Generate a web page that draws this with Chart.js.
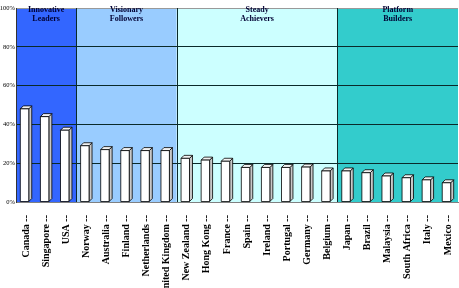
<!DOCTYPE html>
<html>
<head>
<meta charset="utf-8">
<script src="https://cdn.jsdelivr.net/npm/chart.js@4.4.1/dist/chart.umd.min.js"></script>
<style>
  html, body { margin: 0; padding: 0; background: #ffffff; }
  #wrap { width: 459px; height: 288px; position: relative; }
</style>
</head>
<body>
<div id="wrap"><canvas id="c"></canvas></div>
<script>
// ---- Data ----
const categories = ['Canada --', 'Singapore --', 'USA --', 'Norway --', 'Australia --', 'Finland --',
  'Netherlands --', 'United Kingdom --', 'New Zealand --', 'Hong Kong --', 'France --', 'Spain --',
  'Ireland --', 'Portugal --', 'Germany --', 'Belgium --', 'Japan --', 'Brazil --', 'Malaysia --',
  'South Africa --', 'Italy --', 'Mexico --'];
const values = [48, 44, 37, 29, 27, 26.5, 26.5, 26.5, 22.5, 21.6, 21, 17.8, 17.8, 17.8, 18, 16, 16, 15.1, 13.4, 12.5, 11.4, 9.9];
const groupNames = [['Innovative', 'Leaders'], ['Visionary', 'Followers'], ['Steady', 'Achievers'], ['Platform', 'Builders']];
const groupSizes = [3, 5, 8, 6];
const groupColors = ['#3366FF', '#99CCFF', '#CCFFFF', '#33CCCC'];
const yTicks = [0, 20, 40, 60, 80, 100];

const serif = '"Liberation Serif", "Times New Roman", serif';

const bandsPlugin = {
  id: 'bands',
  beforeDraw(chart) {
    const { ctx, chartArea, scales } = chart;
    const x = scales.x;
    const half = (x.getPixelForValue(1) - x.getPixelForValue(0)) / 2;
    let start = 0;
    ctx.save();
    groupSizes.forEach((n, g) => {
      const l = x.getPixelForValue(start) - half;
      const r = x.getPixelForValue(start + n - 1) + half;
      ctx.fillStyle = groupColors[g];
      ctx.fillRect(l, chartArea.top, r - l, chartArea.bottom - chartArea.top);
      start += n;
    });
    ctx.restore();
  },
  afterDraw(chart) {
    const { ctx, chartArea, scales } = chart;
    const x = scales.x;
    const half = (x.getPixelForValue(1) - x.getPixelForValue(0)) / 2;
    let start = 0;
    ctx.save();
    ctx.strokeStyle = '#0a2a2a';
    ctx.lineWidth = 1;
    groupSizes.forEach((n, g) => {
      if (g > 0) {
        const bx = Math.round(x.getPixelForValue(start) - half) + 0.5;
        ctx.beginPath();
        ctx.moveTo(bx, chartArea.top);
        ctx.lineTo(bx, chartArea.bottom);
        ctx.stroke();
      }
      const l = x.getPixelForValue(start) - half;
      const r = x.getPixelForValue(start + n - 1) + half;
      ctx.fillStyle = '#000033';
      ctx.font = 'bold 8px ' + serif;
      ctx.textAlign = 'center';
      ctx.textBaseline = 'middle';
      ctx.fillText(groupNames[g][0], (l + r) / 2, chartArea.top + 2);
      ctx.fillText(groupNames[g][1], (l + r) / 2, chartArea.top + 11);
      start += n;
    });
    ctx.restore();
  }
};

const bars3d = {
  id: 'bars3d',
  afterDatasetsDraw(chart) {
    const { ctx } = chart;
    const meta = chart.getDatasetMeta(0);
    const d = 3;
    ctx.save();
    ctx.lineWidth = 0.8;
    ctx.strokeStyle = '#000000';
    meta.data.forEach(el => {
      const w = el.width;
      const x0 = el.x - w / 2 - d / 2;
      const x1 = x0 + w;
      const top = el.y;
      const bot = el.base;
      ctx.fillStyle = '#C8C8C8';
      ctx.beginPath();
      ctx.moveTo(x1, top); ctx.lineTo(x1 + d, top - d); ctx.lineTo(x1 + d, bot - d); ctx.lineTo(x1, bot); ctx.closePath();
      ctx.fill(); ctx.stroke();
      ctx.fillStyle = '#F2F2F2';
      ctx.beginPath();
      ctx.moveTo(x0, top); ctx.lineTo(x0 + d, top - d); ctx.lineTo(x1 + d, top - d); ctx.lineTo(x1, top); ctx.closePath();
      ctx.fill(); ctx.stroke();
      ctx.fillStyle = '#FFFFFF';
      ctx.beginPath();
      ctx.rect(x0, top, w, bot - top);
      ctx.fill(); ctx.stroke();
    });
    ctx.restore();
  }
};

new Chart(document.getElementById('c'), {
  type: 'bar',
  data: {
    labels: categories,
    datasets: [{
      data: values,
      backgroundColor: 'rgba(0,0,0,0)',
      borderWidth: 0,
      barPercentage: 0.42,
      categoryPercentage: 1
    }]
  },
  options: {
    responsive: true,
    maintainAspectRatio: false,
    animation: false,
    layout: { padding: { top: 8, right: 1, left: 0, bottom: 0 } },
    plugins: { legend: { display: false }, tooltip: { enabled: false } },
    scales: {
      x: {
        grid: { display: false },
        border: { display: true, color: '#808080', width: 1 },
        ticks: {
          autoSkip: false, maxRotation: 90, minRotation: 90, padding: 5,
          color: '#000000',
          font: { family: serif, size: 10, weight: 'bold' }
        },
        afterFit(scale) {
          scale.height = 86;
          scale.paddingLeft = 0;
          scale.paddingRight = 0;
        }
      },
      y: {
        min: 0, max: 100,
        afterBuildTicks(scale) { scale.ticks = yTicks.map(v => ({ value: v })); },
        grid: {
          drawTicks: false,
          color: ctx => (ctx.tick && ctx.tick.value === 100) ? '#999999' : '#0a2a2a',
          lineWidth: 1
        },
        border: { display: true, color: '#333333', width: 1 },
        ticks: {
          padding: 1,
          color: '#000000',
          font: { family: serif, size: 6.5 },
          callback: v => v + '%'
        },
        afterFit(scale) { scale.width = 16; }
      }
    }
  },
  plugins: [bandsPlugin, bars3d]
});
</script>
</body>
</html>
